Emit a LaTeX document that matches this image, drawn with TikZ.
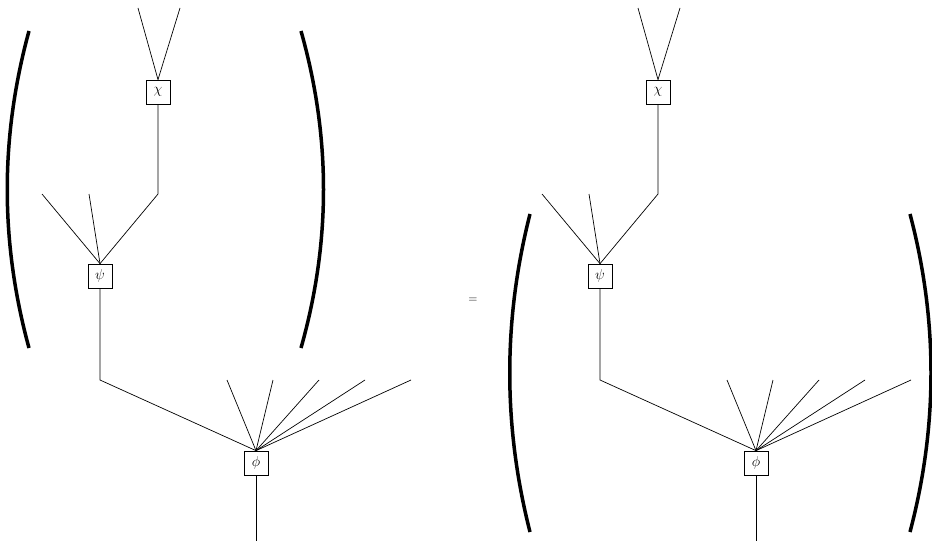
\documentclass[tikz,border=0pt]{standalone}
\usepackage{tikz}
\tikzset{
  box/.style={draw, line width=0.7pt, fill=white, minimum width=24pt, minimum height=24pt, inner sep=0pt, font=\fontsize{14}{16}\selectfont},
  wire/.style={line width=0.7pt},
  paren/.style={line width=3.5pt},
}
\newcommand\mytree{%
  \node[box] (chi) at (158,92) {$\chi$};
  \coordinate (c1) at (138,8);
  \coordinate (c2) at (180,8);
  \node[box] (psi) at (100,276) {$\psi$};
  \coordinate (p1) at (42,194);
  \coordinate (p2) at (89,194);
  \coordinate (k1) at (158,194);
  \node[box] (phi) at (256,463) {$\phi$};
  \coordinate (k2) at (100,380);
  \coordinate (f1) at (227,380);
  \coordinate (f2) at (273,380);
  \coordinate (f3) at (319,380);
  \coordinate (f4) at (365,380);
  \coordinate (f5) at (411,380);
  \coordinate (r) at (256,541);
  \draw[wire] (chi.north) -- (c1);
  \draw[wire] (chi.north) -- (c2);
  \draw[wire] (chi.south) -- (k1) -- (psi.north);
  \draw[wire] (psi.north) -- (p1);
  \draw[wire] (psi.north) -- (p2);
  \draw[wire] (psi.south) -- (k2) -- (phi.north);
  \foreach \i in {1,...,5} {\draw[wire] (phi.north) -- (f\i);}
  \draw[wire] (phi.south) -- (r);
}
\begin{document}
\begin{tikzpicture}[x=1pt,y=-1pt]
\useasboundingbox (0,0) rectangle (932,543);
\begin{scope}[name prefix=L-]
  \mytree
\end{scope}
\begin{scope}[name prefix=R-, shift={(500,0)}]
  \mytree
\end{scope}
% parentheses
\coordinate (lp1) at (29,31); \coordinate (lp2) at (29,348);
\draw[paren] (lp1) .. controls (0,137) and (0,242) .. (lp2);
\coordinate (rp1) at (301,31); \coordinate (rp2) at (301,348);
\draw[paren] (rp1) .. controls (331,137) and (331,242) .. (rp2);
\coordinate (lq1) at (530,214); \coordinate (lq2) at (530,532);
\draw[paren] (lq1) .. controls (503,320) and (503,426) .. (lq2);
\coordinate (rq1) at (910,214); \coordinate (rq2) at (910,532);
\draw[paren] (rq1) .. controls (938,320) and (938,426) .. (rq2);
\node[font=\fontsize{13}{15}\selectfont] (eq) at (473,300) {$=$};
\end{tikzpicture}
\end{document}
